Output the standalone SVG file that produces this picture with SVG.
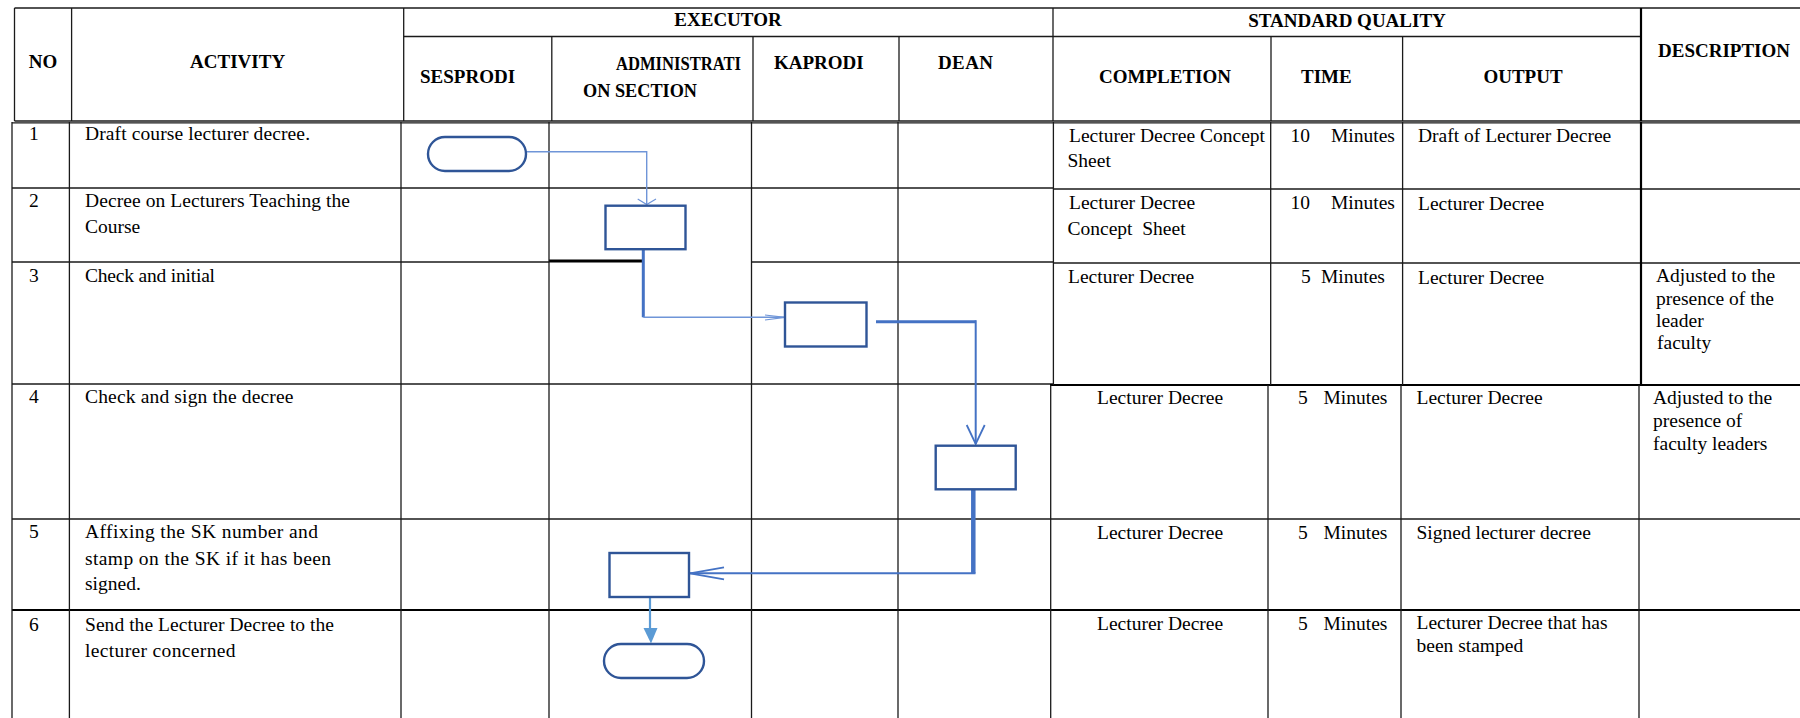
<svg xmlns="http://www.w3.org/2000/svg" width="1800" height="718" viewBox="0 0 1800 718">
  <style>
    .ln { stroke: #1a1a1a; stroke-width: 1.3; fill: none; }
    .lnb { stroke: #000; stroke-width: 2.2; fill: none; }
    .hd { font-family: "Liberation Serif", "Times New Roman", serif; font-size: 19px; font-weight: bold; fill: #000; }
    .tx { font-family: "Liberation Serif", "Times New Roman", serif; font-size: 19.5px; fill: #000; }
    .box { fill: #fff; stroke: #2F5597; stroke-width: 2.4; }
    .thin { stroke: #6F95D8; stroke-width: 1.4; fill: none; }
    .mid { stroke: #4472C4; stroke-width: 2; fill: none; }
    .thick { stroke: #4472C4; stroke-width: 3; fill: none; }
    .heavy { stroke: #4472C4; stroke-width: 4.5; fill: none; }
    .head-open { stroke: #4472C4; stroke-width: 1.8; fill: none; }
    .head-thin { stroke: #6F95D8; stroke-width: 1.2; fill: none; }
    .end-link { stroke: #5B9BD5; stroke-width: 2.2; fill: none; }
    .head-fill { fill: #5B9BD5; stroke: none; }
  </style>

  <rect x="0" y="0" width="1800" height="718" fill="#fff"/>

  <!-- table grid -->
  <g id="table">
    <!-- header block -->
    <line class="ln" x1="14.5" y1="8" x2="1800" y2="8"/>
    <line class="ln" x1="403.7" y1="36.5" x2="1641" y2="36.5"/>
    <line class="ln" x1="14.5" y1="121" x2="1800" y2="121"/>
    <line class="ln" x1="14.5" y1="8" x2="14.5" y2="121"/>
    <line class="ln" x1="71.6" y1="8" x2="71.6" y2="121"/>
    <line class="ln" x1="403.7" y1="8" x2="403.7" y2="121"/>
    <line class="ln" x1="551.8" y1="36.5" x2="551.8" y2="121"/>
    <line class="ln" x1="753" y1="36.5" x2="753" y2="121"/>
    <line class="ln" x1="899" y1="36.5" x2="899" y2="121"/>
    <line class="ln" x1="1053" y1="8" x2="1053" y2="121"/>
    <line class="ln" x1="1271" y1="36.5" x2="1271" y2="121"/>
    <line class="ln" x1="1402.6" y1="36.5" x2="1402.6" y2="121"/>
    <line class="lnb" x1="1641" y1="8" x2="1641" y2="121"/>

    <!-- body: horizontal rules -->
    <line class="ln" x1="12" y1="122.8" x2="1800" y2="122.8"/>
    <line class="ln" x1="12" y1="188" x2="1053" y2="188"/>
    <line class="ln" x1="1053" y1="189" x2="1800" y2="189"/>
    <line class="ln" x1="12" y1="262" x2="549" y2="262"/>
    <line stroke="#000" stroke-width="3" x1="549" y1="261" x2="643.3" y2="261"/>
    <line class="ln" x1="751.5" y1="262" x2="1053" y2="262"/>
    <line class="ln" x1="1053" y1="263" x2="1800" y2="263"/>
    <line class="ln" x1="12" y1="384" x2="1053" y2="384"/>
    <line class="lnb" x1="1050" y1="385" x2="1800" y2="385"/>
    <line class="ln" x1="12" y1="519" x2="1800" y2="519"/>
    <line class="lnb" x1="12" y1="610" x2="1800" y2="610"/>

    <!-- body: vertical rules -->
    <line class="ln" x1="12" y1="122" x2="12" y2="718"/>
    <line class="ln" x1="69.4" y1="122" x2="69.4" y2="718"/>
    <line class="ln" x1="401" y1="122" x2="401" y2="718"/>
    <line class="ln" x1="549" y1="122" x2="549" y2="718"/>
    <line class="ln" x1="751.5" y1="122" x2="751.5" y2="718"/>
    <line class="ln" x1="898" y1="122" x2="898" y2="718"/>
    <line class="ln" x1="1053.4" y1="122" x2="1053.4" y2="385"/>
    <line class="ln" x1="1050.7" y1="385" x2="1050.7" y2="718"/>
    <line class="ln" x1="1270.7" y1="122" x2="1270.7" y2="385"/>
    <line class="ln" x1="1268" y1="385" x2="1268" y2="718"/>
    <line class="ln" x1="1402.6" y1="122" x2="1402.6" y2="385"/>
    <line class="ln" x1="1401" y1="385" x2="1401" y2="718"/>
    <line class="lnb" x1="1641" y1="122" x2="1641" y2="385"/>
    <line class="ln" x1="1639" y1="385" x2="1639" y2="718"/>
  </g>

  <!-- column headings -->
  <g id="header">
    <text class="hd" x="43" y="68" text-anchor="middle">NO</text>
    <text class="hd" x="237.6" y="68" text-anchor="middle">ACTIVITY</text>
    <text class="hd" x="728" y="26" text-anchor="middle">EXECUTOR</text>
    <text class="hd" x="1347" y="26.5" text-anchor="middle">STANDARD QUALITY</text>
    <text class="hd" x="420" y="83">SESPRODI</text>
    <text class="hd" x="616" y="70" textLength="125" lengthAdjust="spacingAndGlyphs">ADMINISTRATI</text>
    <text class="hd" x="583" y="97" textLength="114" lengthAdjust="spacingAndGlyphs">ON SECTION</text>
    <text class="hd" x="774" y="69">KAPRODI</text>
    <text class="hd" x="938" y="69" textLength="55">DEAN</text>
    <text class="hd" x="1165" y="83" text-anchor="middle">COMPLETION</text>
    <text class="hd" x="1301" y="83">TIME</text>
    <text class="hd" x="1523" y="83" text-anchor="middle">OUTPUT</text>
    <text class="hd" x="1658" y="57">DESCRIPTION</text>
  </g>

  <!-- activity rows -->
  <g id="row-1">
    <text class="tx" x="29" y="139.5">1</text>
    <text class="tx" x="85" y="139.5" textLength="225">Draft course lecturer decree.</text>
    <text class="tx" x="1069" y="142">Lecturer Decree Concept</text>
    <text class="tx" x="1067.5" y="167">Sheet</text>
    <text class="tx" x="1290.5" y="142">10</text>
    <text class="tx" x="1331" y="142">Minutes</text>
    <text class="tx" x="1418" y="142">Draft of Lecturer Decree</text>
  </g>
  <g id="row-2">
    <text class="tx" x="29" y="207">2</text>
    <text class="tx" x="85" y="207" textLength="265">Decree on Lecturers Teaching the</text>
    <text class="tx" x="85" y="233">Course</text>
    <text class="tx" x="1069" y="209">Lecturer Decree</text>
    <text class="tx" x="1067.5" y="235" xml:space="preserve">Concept  Sheet</text>
    <text class="tx" x="1290.5" y="209">10</text>
    <text class="tx" x="1331" y="209">Minutes</text>
    <text class="tx" x="1418" y="210">Lecturer Decree</text>
  </g>
  <g id="row-3">
    <text class="tx" x="29" y="282">3</text>
    <text class="tx" x="85" y="282" textLength="130">Check and initial</text>
    <text class="tx" x="1068" y="283">Lecturer Decree</text>
    <text class="tx" x="1301" y="283">5</text>
    <text class="tx" x="1321" y="283">Minutes</text>
    <text class="tx" x="1418" y="284">Lecturer Decree</text>
    <text class="tx" x="1656" y="282">Adjusted to the</text>
    <text class="tx" x="1656" y="305">presence of the</text>
    <text class="tx" x="1656" y="327">leader</text>
    <text class="tx" x="1657" y="349">faculty</text>
  </g>
  <g id="row-4">
    <text class="tx" x="29" y="403">4</text>
    <text class="tx" x="85" y="403" textLength="208.5">Check and sign the decree</text>
    <text class="tx" x="1097" y="404">Lecturer Decree</text>
    <text class="tx" x="1298" y="404">5</text>
    <text class="tx" x="1323.5" y="404">Minutes</text>
    <text class="tx" x="1416.5" y="404">Lecturer Decree</text>
    <text class="tx" x="1653" y="404">Adjusted to the</text>
    <text class="tx" x="1653" y="427">presence of</text>
    <text class="tx" x="1653" y="450">faculty leaders</text>
  </g>
  <g id="row-5">
    <text class="tx" x="29" y="538">5</text>
    <text class="tx" x="85" y="538" textLength="233">Affixing the SK number and</text>
    <text class="tx" x="85" y="565" textLength="246">stamp on the SK if it has been</text>
    <text class="tx" x="85" y="590">signed.</text>
    <text class="tx" x="1097" y="539">Lecturer Decree</text>
    <text class="tx" x="1298" y="539">5</text>
    <text class="tx" x="1323.5" y="539">Minutes</text>
    <text class="tx" x="1416.5" y="539">Signed lecturer decree</text>
  </g>
  <g id="row-6">
    <text class="tx" x="29" y="631">6</text>
    <text class="tx" x="85" y="631" textLength="249">Send the Lecturer Decree to the</text>
    <text class="tx" x="85" y="657" textLength="150.5">lecturer concerned</text>
    <text class="tx" x="1097" y="630">Lecturer Decree</text>
    <text class="tx" x="1298" y="630">5</text>
    <text class="tx" x="1323.5" y="630">Minutes</text>
    <text class="tx" x="1416.5" y="629">Lecturer Decree that has</text>
    <text class="tx" x="1416.5" y="652">been stamped</text>
  </g>

  <!-- connectors -->
  <g id="connectors">
    <!-- start -> draft -->
    <path class="thin" d="M526,151.7 H646.7 V204"/>
    <path class="head-thin" d="M637.7,199 L646.7,204.5 L656,199"/>
    <!-- draft -> check and initial -->
    <path class="thick" d="M643.3,249 V317.3"/>
    <path class="thin" d="M643.3,317.3 H784"/>
    <path class="head-thin" d="M765,315 L785,317.3 L765,320"/>
    <!-- check and initial -> sign -->
    <path class="thick" d="M876,321.7 H975.7"/>
    <path class="mid" d="M975.7,320.2 V444"/>
    <path class="head-open" d="M966.7,425 L975.7,444 L984.7,425"/>
    <!-- sign -> stamp -->
    <path class="heavy" d="M973.3,489.3 V573.3"/>
    <path class="mid" d="M975.5,573.3 H690"/>
    <path class="head-open" d="M724,567.3 L690,573.3 L724,579.3"/>
    <!-- stamp -> end -->
    <path class="end-link" d="M650,597 V630"/>
    <path class="head-fill" d="M643.5,628 L657.5,628 L651,643.5 Z"/>
  </g>

  <!-- flow nodes -->
  <g id="node-start">
    <rect class="box" x="428" y="137" width="98" height="34" rx="17"/>
  </g>
  <g id="node-draft">
    <rect class="box" x="605.5" y="205.7" width="80" height="43.5"/>
  </g>
  <g id="node-check-initial">
    <rect class="box" x="785" y="302.5" width="81.5" height="44"/>
  </g>
  <g id="node-sign">
    <rect class="box" x="935.7" y="445.7" width="80" height="43.6"/>
  </g>
  <g id="node-stamp">
    <rect class="box" x="609.5" y="553" width="79.5" height="44"/>
  </g>
  <g id="node-end">
    <rect class="box" x="604" y="644" width="100" height="34" rx="17"/>
  </g>
</svg>
